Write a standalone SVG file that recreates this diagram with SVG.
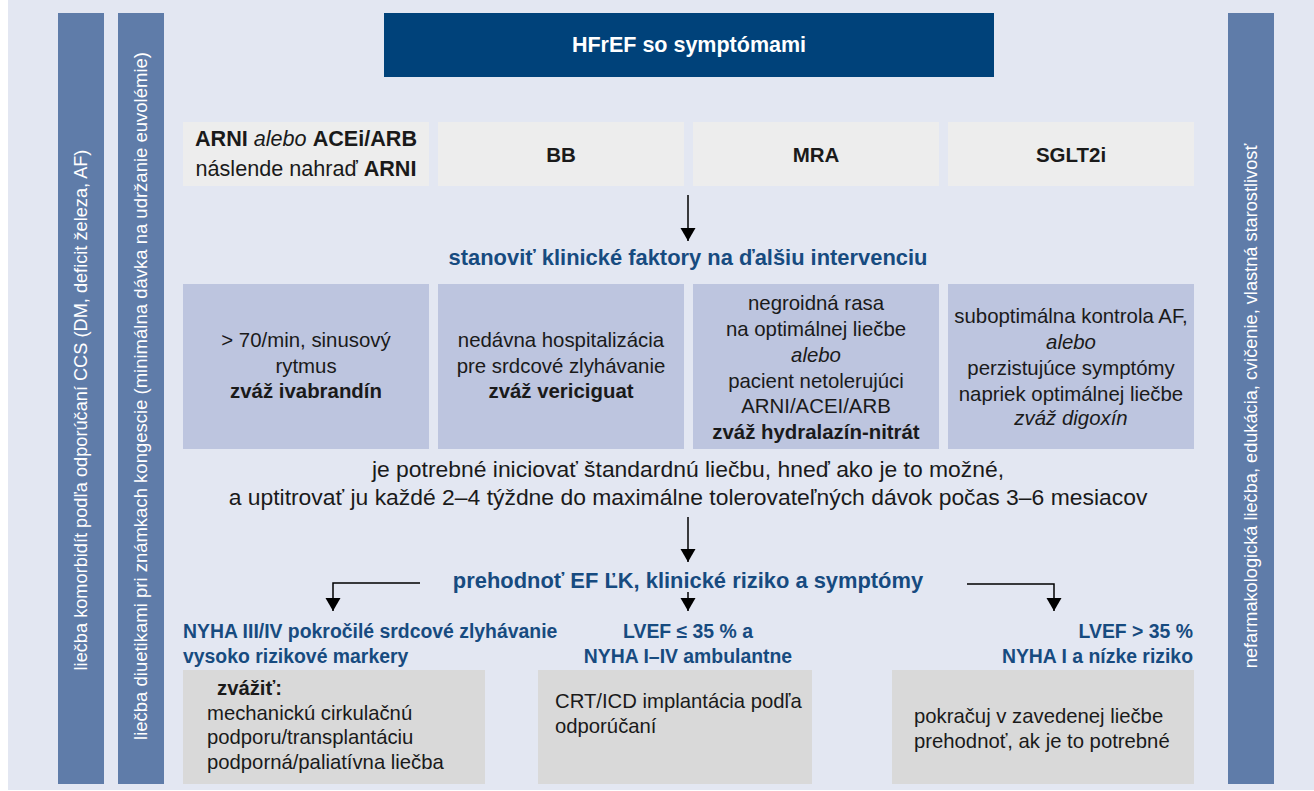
<svg xmlns="http://www.w3.org/2000/svg" width="1314" height="791" viewBox="0 0 1314 791">
<defs>
<style>
text{font-family:"Liberation Sans",Arial,sans-serif;fill:#1a1a1a}
.bar{fill:#5f7ca9}
.vt{fill:#ffffff;font-size:18.2px;text-anchor:middle}
.top{fill:#ededed}
.mid{fill:#bdc5df}
.bot{fill:#d9d9d9}
.c{text-anchor:middle}
.b{font-weight:bold}
.i{font-style:italic}
.tb{font-size:20.5px}
.t1{font-size:21.6px}
.mt{font-size:20.4px}
.blue{fill:#174b80;font-weight:bold}
.h{font-size:21.9px}
.ol{font-size:19.4px}
.bt{font-size:20.3px}
.st{font-size:22.9px}
.line{fill:none;stroke:#000;stroke-width:1.5}
</style>
<marker id="ah" markerUnits="userSpaceOnUse" markerWidth="14" markerHeight="16" refX="13" refY="7.5" orient="auto" viewBox="0 0 14 16">
<path d="M0,0 L13,7.5 L0,15 Z" fill="#000"/>
</marker>
</defs>
<rect x="8" y="0" width="1306" height="790" fill="#e3e7f2"/>

<g id="bar-left-1">
<rect class="bar" x="58" y="13" width="46" height="771"/>
<text class="vt" transform="translate(87,410) rotate(-90)">liečba komorbidít podľa odporúčaní CCS (DM, deficit železa, AF)</text>
</g>
<g id="bar-left-2">
<rect class="bar" x="118" y="13" width="46" height="771"/>
<text class="vt" transform="translate(147,396) rotate(-90)" style="font-size:18.5px">liečba diuetikami pri známkach kongescie (minimálna dávka na udržanie euvolémie)</text>
</g>
<g id="bar-right">
<rect class="bar" x="1228" y="13" width="46" height="771"/>
<text class="vt" transform="translate(1257,406) rotate(-90)">nefarmakologická liečba, edukácia, cvičenie, vlastná starostlivosť</text>
</g>

<g id="title">
<rect x="384" y="13" width="610" height="64" fill="#00427a"/>
<text class="c b" x="689" y="52" style="font-size:21.5px;fill:#fff">HFrEF so symptómami</text>
</g>

<g id="drug-arni">
<rect class="top" x="183" y="122" width="246" height="64"/>
<text class="c t1" x="306" y="146"><tspan class="b">ARNI</tspan> <tspan class="i">alebo</tspan> <tspan class="b">ACEi/ARB</tspan></text>
<text class="c t1" x="306" y="176">náslende nahraď <tspan class="b">ARNI</tspan></text>
</g>
<g id="drug-bb">
<rect class="top" x="438" y="122" width="246" height="64"/>
<text class="c b tb" x="561" y="162">BB</text>
</g>
<g id="drug-mra">
<rect class="top" x="693" y="122" width="246" height="64"/>
<text class="c b tb" x="816" y="162">MRA</text>
</g>
<g id="drug-sglt2i">
<rect class="top" x="948" y="122" width="246" height="64"/>
<text class="c b tb" x="1071" y="162">SGLT2i</text>
</g>

<g id="heading-factors">
<text class="c blue h" x="688" y="265">stanoviť klinické faktory na ďalšiu intervenciu</text>
</g>

<g id="factor-ivabradin">
<rect class="mid" x="183" y="284" width="246" height="165"/>
<text class="c mt" x="306" y="347">&gt; 70/min, sinusový</text>
<text class="c mt" x="306" y="373">rytmus</text>
<text class="c mt b" x="306" y="398">zváž ivabrandín</text>
</g>
<g id="factor-vericiguat">
<rect class="mid" x="438" y="284" width="246" height="165"/>
<text class="c mt" x="561" y="347">nedávna hospitalizácia</text>
<text class="c mt" x="561" y="373">pre srdcové zlyhávanie</text>
<text class="c mt b" x="561" y="398">zváž vericiguat</text>
</g>
<g id="factor-hydralazin">
<rect class="mid" x="693" y="284" width="246" height="165"/>
<text class="c mt" x="816" y="310">negroidná rasa</text>
<text class="c mt" x="816" y="336">na optimálnej liečbe</text>
<text class="c mt i" x="816" y="362">alebo</text>
<text class="c mt" x="816" y="388">pacient netolerujúci</text>
<text class="c mt" x="816" y="413">ARNI/ACEI/ARB</text>
<text class="c mt b" x="816" y="439">zváž hydralazín-nitrát</text>
</g>
<g id="factor-digoxin">
<rect class="mid" x="948" y="284" width="246" height="165"/>
<text class="c mt" x="1071" y="323">suboptimálna kontrola AF,</text>
<text class="c mt i" x="1071" y="349">alebo</text>
<text class="c mt" x="1071" y="375">perzistujúce symptómy</text>
<text class="c mt" x="1071" y="401">napriek optimálnej liečbe</text>
<text class="c mt i" x="1071" y="425">zváž digoxín</text>
</g>

<g id="standard-therapy">
<text class="c st" x="688" y="477">je potrebné iniciovať štandardnú liečbu, hneď ako je to možné,</text>
<text class="c st" x="688" y="505">a uptitrovať ju každé 2–4 týždne do maximálne tolerovateľných dávok počas 3–6 mesiacov</text>
</g>

<g id="heading-reassess">
<text class="c blue h" x="688" y="588">prehodnoť EF ĽK, klinické riziko a symptómy</text>
</g>

<g id="outcome-advanced">
<text class="blue ol" x="183" y="638">NYHA III/IV pokročilé srdcové zlyhávanie</text>
<text class="blue ol" x="183" y="663">vysoko rizikové markery</text>
<rect class="bot" x="183" y="670" width="302" height="114"/>
<text class="bt b" x="217" y="695">zvážiť:</text>
<text class="bt" x="207" y="720">mechanickú cirkulačnú</text>
<text class="bt" x="207" y="744">podporu/transplantáciu</text>
<text class="bt" x="207" y="769">podporná/paliatívna liečba</text>
</g>
<g id="outcome-crt">
<text class="c blue ol" x="688" y="638">LVEF ≤ 35 % a</text>
<text class="c blue ol" x="688" y="663">NYHA I–IV ambulantne</text>
<rect class="bot" x="538" y="670" width="274" height="114"/>
<text class="bt" x="555" y="708">CRT/ICD implantácia podľa</text>
<text class="bt" x="555" y="733">odporúčaní</text>
</g>
<g id="outcome-continue">
<text class="blue ol" x="1193" y="638" text-anchor="end">LVEF &gt; 35 %</text>
<text class="blue ol" x="1193" y="663" text-anchor="end">NYHA I a nízke riziko</text>
<rect class="bot" x="892" y="670" width="302" height="114"/>
<text class="bt" x="914" y="723">pokračuj v zavedenej liečbe</text>
<text class="bt" x="914" y="748">prehodnoť, ak je to potrebné</text>
</g>

<g id="connectors">
<path class="line" d="M688,195 V241" marker-end="url(#ah)"/>
<path class="line" d="M688,517 V562" marker-end="url(#ah)"/>
<path class="line" d="M688,592 V611" marker-end="url(#ah)"/>
<path class="line" d="M420,583 H333 V611" marker-end="url(#ah)"/>
<path class="line" d="M967,584 H1054 V611" marker-end="url(#ah)"/>
</g>
</svg>
